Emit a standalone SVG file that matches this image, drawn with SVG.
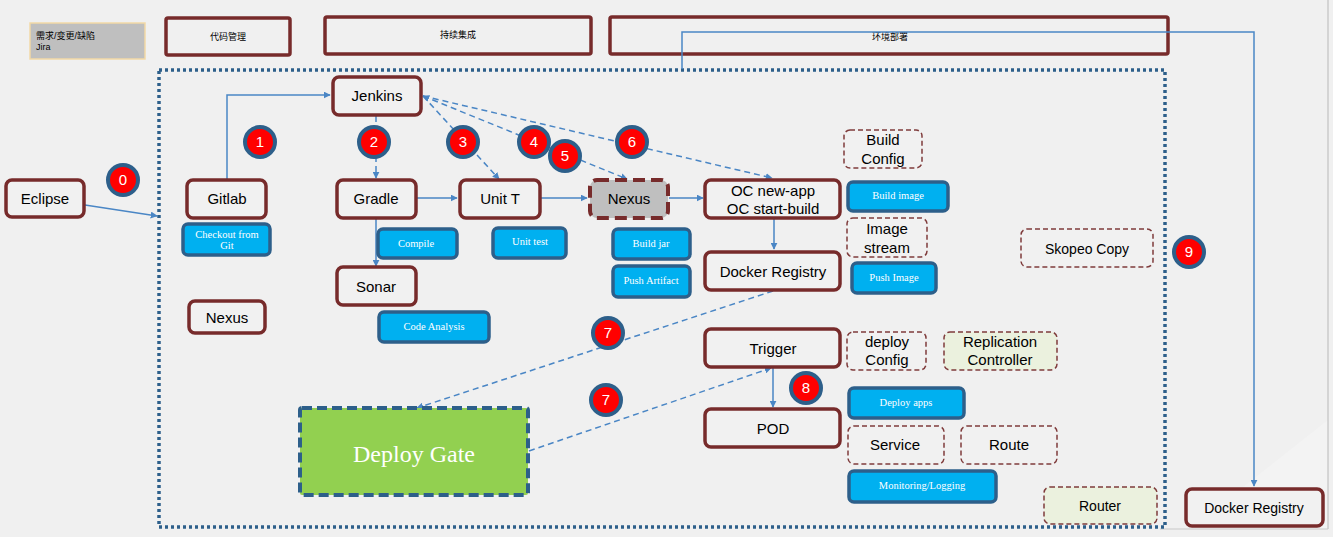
<svg xmlns="http://www.w3.org/2000/svg" width="1333" height="537" viewBox="0 0 1333 537">
<defs>
<marker id="ah" viewBox="0 0 10 10" refX="9" refY="5" markerWidth="7" markerHeight="7" markerUnits="userSpaceOnUse" orient="auto-start-reverse"><path d="M0,0 L10,5 L0,10 z" fill="#4a86c5"/></marker>
<style>
.bg{fill:#f0f0f0}
.node{fill:#f1f1f1;stroke:#772b2b;stroke-width:3.5}
.hdr{fill:none;stroke:#772b2b;stroke-width:3.5}
.dash{fill:#f1f1f1;stroke:#7f3b3b;stroke-width:1.5;stroke-dasharray:5,3}
.dashg{fill:#ebf1de;stroke:#7f3b3b;stroke-width:1.5;stroke-dasharray:5,3}
.blue{fill:#00b0f0;stroke:#2d5f8a;stroke-width:3.5}
.t{font-family:"Liberation Sans",Arial,sans-serif;font-size:15px;fill:#000;text-anchor:middle}
.ts{font-family:"Liberation Sans","Noto Sans CJK SC",sans-serif;font-size:9px;fill:#000}
.tb{font-family:"Liberation Serif","Times New Roman",serif;font-size:10.5px;fill:#fff;text-anchor:middle}
.c{fill:#ff0000;stroke:#2d5f8a;stroke-width:4}
.cn{font-family:"Liberation Sans",Arial,sans-serif;font-size:15px;fill:#fff;text-anchor:middle}
.ln{fill:none;stroke:#4a86c5;stroke-width:1.5}
.ld{fill:none;stroke:#4a86c5;stroke-width:1.5;stroke-dasharray:6,4}
</style>
</defs>
<rect class="bg" x="0" y="0" width="1333" height="537"/>
<polygon points="1328,420 1328,529 1190,529" fill="#f3f3f3"/>
<line x1="1328" y1="0" x2="1328" y2="529" stroke="#b8b8b8" stroke-width="1"/>
<line x1="1160" y1="529" x2="1328" y2="529" stroke="#c8c8c8" stroke-width="1"/>

<g id="jira"><rect x="30" y="23" width="115" height="36" fill="#bfbfbf" stroke="#f2d9a6" stroke-width="1.5"/><text class="ts" x="36" y="39">需求/变更/缺陷</text><text class="ts" x="36" y="50">Jira</text></g>
<g id="hdr-code"><rect class="hdr" x="166" y="18" width="124" height="37" rx="2"/><text class="ts" x="228" y="40" text-anchor="middle">代码管理</text></g>
<g id="hdr-ci"><rect class="hdr" x="325" y="17" width="266" height="37" rx="2"/><text class="ts" x="458" y="38" text-anchor="middle">持续集成</text></g>
<g id="hdr-deploy"><rect class="hdr" x="610" y="17" width="558" height="37" rx="2"/><text class="ts" x="890" y="40" text-anchor="middle">环境部署</text></g>

<g id="container"><rect x="159" y="70" width="1006" height="457" fill="none" stroke="#2d5f8a" stroke-width="3.5" stroke-dasharray="3,3"/></g>

<g id="connectors">
<polyline class="ln" points="682,69 682,32 1254,32 1254,486" marker-end="url(#ah)"/>
<line class="ln" x1="85" y1="205" x2="157" y2="216" marker-end="url(#ah)"/>
<polyline class="ln" points="227,180 227,95 330,95" marker-end="url(#ah)"/>
<line class="ld" x1="376" y1="116" x2="376" y2="178" marker-end="url(#ah)"/>
<line class="ln" x1="376" y1="219" x2="376" y2="266" marker-end="url(#ah)"/>
<line class="ln" x1="417" y1="198" x2="457" y2="198" marker-end="url(#ah)"/>
<line class="ln" x1="541" y1="198" x2="587" y2="198" marker-end="url(#ah)"/>
<line class="ln" x1="669" y1="198" x2="703" y2="198" marker-end="url(#ah)"/>
<line class="ln" x1="774" y1="219" x2="774" y2="249" marker-end="url(#ah)"/>
<line class="ld" x1="423" y1="96" x2="499" y2="179" marker-end="url(#ah)"/>
<line class="ld" x1="423" y1="96" x2="627" y2="179" marker-start="url(#ah)" marker-end="url(#ah)"/>
<line class="ld" x1="423" y1="96" x2="772" y2="178" marker-end="url(#ah)"/>
<line class="ld" x1="773" y1="291" x2="417" y2="408" marker-end="url(#ah)"/>
<line class="ld" x1="529" y1="451" x2="771" y2="368" marker-end="url(#ah)"/>
<line class="ln" x1="773" y1="368" x2="773" y2="407" marker-end="url(#ah)"/>
</g>

<g id="eclipse"><rect class="node" x="6" y="180" width="78" height="37" rx="6"/><text class="t" x="45" y="204">Eclipse</text></g>
<g id="gitlab"><rect class="node" x="187" y="180" width="79" height="38" rx="6"/><text class="t" x="227" y="204">Gitlab</text></g>
<g id="checkout"><rect class="blue" x="183" y="224" width="87" height="31" rx="5"/><text class="tb" x="227" y="238">Checkout from</text><text class="tb" x="227" y="249">Git</text></g>
<g id="jenkins"><rect class="node" x="333" y="77" width="88" height="38" rx="6"/><text class="t" x="377" y="101">Jenkins</text></g>
<g id="gradle"><rect class="node" x="337" y="180" width="79" height="38" rx="6"/><text class="t" x="376" y="204">Gradle</text></g>
<g id="compile"><rect class="blue" x="378" y="229" width="79" height="29" rx="5"/><text class="tb" x="416" y="247">Compile</text></g>
<g id="sonar"><rect class="node" x="337" y="267" width="79" height="38" rx="6"/><text class="t" x="376" y="292">Sonar</text></g>
<g id="code-analysis"><rect class="blue" x="379" y="312" width="110" height="30" rx="5"/><text class="tb" x="434" y="330">Code Analysis</text></g>
<g id="nexus-left"><rect class="node" x="189" y="301" width="76" height="32" rx="6"/><text class="t" x="227" y="323">Nexus</text></g>
<g id="unit-t"><rect class="node" x="460" y="180" width="80" height="38" rx="6"/><text class="t" x="500" y="204">Unit T</text></g>
<g id="unit-test"><rect class="blue" x="493" y="228" width="73" height="30" rx="5"/><text class="tb" x="530" y="245">Unit test</text></g>
<g id="nexus"><rect x="590" y="180" width="78" height="38" rx="7" fill="#bfbfbf" stroke="#772b2b" stroke-width="4" stroke-dasharray="12,6"/><text class="t" x="629" y="204">Nexus</text></g>
<g id="build-jar"><rect class="blue" x="613" y="229" width="77" height="30" rx="5"/><text class="tb" x="651" y="247">Build jar</text></g>
<g id="push-artifact"><rect class="blue" x="613" y="266" width="77" height="31" rx="5"/><text class="tb" x="651" y="284">Push Artifact</text></g>
<g id="oc"><rect class="node" x="705" y="180" width="135" height="38" rx="6"/><text class="t" x="773" y="196">OC new-app</text><text class="t" x="773" y="214">OC start-build</text></g>
<g id="docker-registry"><rect class="node" x="705" y="252" width="135" height="38" rx="6"/><text class="t" x="773" y="277">Docker Registry</text></g>
<g id="build-config"><rect class="dash" x="844" y="130" width="78" height="38" rx="6"/><text class="t" x="883" y="145">Build</text><text class="t" x="883" y="164">Config</text></g>
<g id="build-image"><rect class="blue" x="848" y="182" width="100" height="29" rx="5"/><text class="tb" x="898" y="199">Build image</text></g>
<g id="image-stream"><rect class="dash" x="847" y="218" width="80" height="39" rx="6"/><text class="t" x="887" y="234">Image</text><text class="t" x="887" y="253">stream</text></g>
<g id="push-image"><rect class="blue" x="852" y="263" width="84" height="30" rx="5"/><text class="tb" x="894" y="281">Push Image</text></g>
<g id="skopeo"><rect class="dash" x="1021" y="229" width="132" height="38" rx="6"/><text class="t" x="1087" y="254" style="font-size:14px">Skopeo Copy</text></g>
<g id="deploy-gate"><rect x="300" y="408" width="228" height="87" rx="2" fill="#92d050" stroke="#2d5f8a" stroke-width="4" stroke-dasharray="10,5"/><text x="414" y="462" text-anchor="middle" font-family="'Liberation Serif','Times New Roman',serif" font-size="24" fill="#fff">Deploy Gate</text></g>
<g id="trigger"><rect class="node" x="705" y="329" width="135" height="38" rx="6"/><text class="t" x="773" y="354">Trigger</text></g>
<g id="pod"><rect class="node" x="705" y="409" width="135" height="38" rx="6"/><text class="t" x="773" y="434">POD</text></g>
<g id="deploy-config"><rect class="dash" x="847" y="332" width="79" height="38" rx="6"/><text class="t" x="887" y="347">deploy</text><text class="t" x="887" y="365">Config</text></g>
<g id="replication-controller"><rect class="dashg" x="944" y="332" width="113" height="38" rx="6"/><text class="t" x="1000" y="347">Replication</text><text class="t" x="1000" y="365">Controller</text></g>
<g id="deploy-apps"><rect class="blue" x="849" y="388" width="115" height="30" rx="5"/><text class="tb" x="906" y="406">Deploy apps</text></g>
<g id="service"><rect class="dash" x="848" y="426" width="96" height="38" rx="6"/><text class="t" x="895" y="450">Service</text></g>
<g id="route"><rect class="dash" x="961" y="426" width="96" height="38" rx="6"/><text class="t" x="1009" y="450">Route</text></g>
<g id="monitoring"><rect class="blue" x="849" y="471" width="147" height="31" rx="5"/><text class="tb" x="922" y="489">Monitoring/Logging</text></g>
<g id="router"><rect class="dashg" x="1044" y="487" width="113" height="37" rx="6"/><text class="t" x="1100" y="511" style="font-size:14px">Router</text></g>
<g id="docker-registry-right"><rect class="node" x="1186" y="489" width="137" height="37" rx="6" fill="#f7f7f7"/><text class="t" x="1254" y="513" style="font-size:14px">Docker Registry</text></g>

<g id="badges">
<g id="b0"><circle class="c" cx="123" cy="180" r="15"/><text class="cn" x="123" y="185">0</text></g>
<g id="b1"><circle class="c" cx="260" cy="142" r="15"/><text class="cn" x="260" y="147">1</text></g>
<g id="b2"><circle class="c" cx="374" cy="142" r="15"/><text class="cn" x="374" y="147">2</text></g>
<g id="b3"><circle class="c" cx="463" cy="142" r="15"/><text class="cn" x="463" y="147">3</text></g>
<g id="b4"><circle class="c" cx="534" cy="142" r="15"/><text class="cn" x="534" y="147">4</text></g>
<g id="b5"><circle class="c" cx="565" cy="156" r="15"/><text class="cn" x="565" y="161">5</text></g>
<g id="b6"><circle class="c" cx="632" cy="142" r="15"/><text class="cn" x="632" y="147">6</text></g>
<g id="b7a"><circle class="c" cx="608" cy="333" r="15"/><text class="cn" x="608" y="338">7</text></g>
<g id="b7b"><circle class="c" cx="606" cy="400" r="15"/><text class="cn" x="606" y="405">7</text></g>
<g id="b8"><circle class="c" cx="806" cy="388" r="15"/><text class="cn" x="806" y="393">8</text></g>
<g id="b9"><circle class="c" cx="1189" cy="252" r="15"/><text class="cn" x="1189" y="257">9</text></g>
</g>
</svg>
